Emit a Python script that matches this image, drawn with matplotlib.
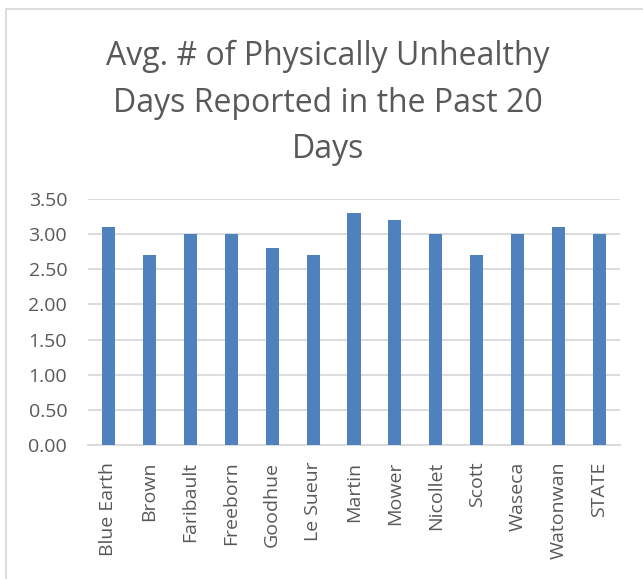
import matplotlib.pyplot as plt
from matplotlib.lines import Line2D

# Chart data
counties = ["Blue Earth", "Brown", "Faribault", "Freeborn", "Goodhue", "Le Sueur",
            "Martin", "Mower", "Nicollet", "Scott", "Waseca", "Watonwan", "STATE"]
days = [3.1, 2.7, 3.0, 3.0, 2.8, 2.7, 3.3, 3.2, 3.0, 2.7, 3.0, 3.1, 3.0]
yticks = [0.0, 0.5, 1.0, 1.5, 2.0, 2.5, 3.0, 3.5]
title = "Avg. # of Physically Unhealthy\nDays Reported in the Past 20\nDays"

plt.rcParams['font.family'] = ['Open Sans', 'DejaVu Sans']

fig = plt.figure(figsize=(6.43, 5.79), dpi=100)
ax = fig.add_axes([88 / 643, 1 - 445 / 579, 532 / 643, 246 / 579])

x = list(range(len(counties)))
ax.bar(x, days, width=0.32, color="#4f81bd", zorder=3)

ax.set_xlim(-0.5, len(counties) - 0.5)
ax.set_ylim(0, 3.5)
ax.set_yticks(yticks)
ax.set_yticklabels([f"{v:.2f}" for v in yticks])
ax.set_xticks(x)
ax.set_xticklabels(counties, rotation=90)
ax.tick_params(axis='both', length=0, labelsize=14, colors="#595959")
ax.tick_params(axis='y', pad=15)
ax.tick_params(axis='x', pad=12)
ax.grid(axis='y', color="#d9d9d9", linewidth=1.3, zorder=0)
for side in ['left', 'right', 'top']:
    ax.spines[side].set_visible(False)
ax.spines['bottom'].set_color("#d9d9d9")
ax.spines['bottom'].set_linewidth(1.3)

fig.text(328 / 643, 1 - 103 / 579, title, ha='center', va='center',
         fontsize=23, color="#595959", linespacing=1.55)

# chart frame (left and top edges)
fig.add_artist(Line2D([6 / 643, 6 / 643], [0, 1 - 9 / 579], color="#d9d9d9", linewidth=1.3))
fig.add_artist(Line2D([6 / 643, 1], [1 - 9 / 579, 1 - 9 / 579], color="#d9d9d9", linewidth=1.3))

fig.savefig("out.png", dpi=100)
